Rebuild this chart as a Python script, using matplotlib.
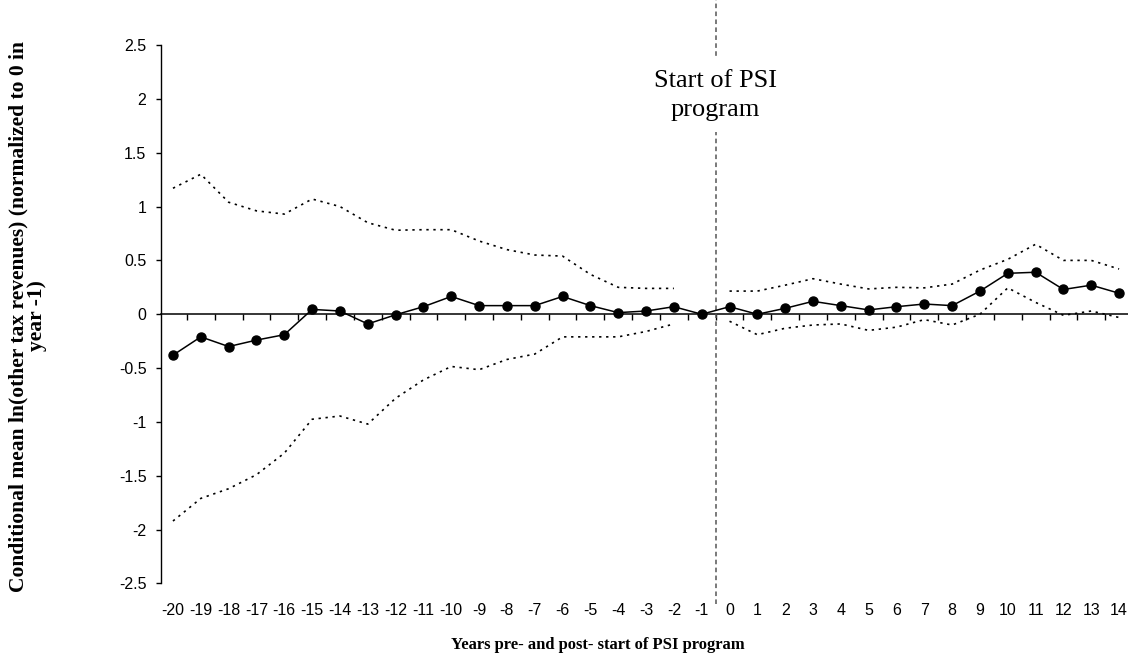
import matplotlib
matplotlib.use('Agg')
import matplotlib.pyplot as plt
import numpy as np

years = list(range(-20, 15))
mean = [-0.38, -0.21, -0.30, -0.24, -0.19, 0.045, 0.03, -0.09, -0.005, 0.07,
        0.165, 0.08, 0.08, 0.08, 0.165, 0.08, 0.015, 0.03, 0.07, 0.0,
        0.07, 0.0, 0.055, 0.12, 0.08, 0.04, 0.07, 0.095, 0.08, 0.215,
        0.38, 0.39, 0.23, 0.27, 0.195]
upper = [1.17, 1.30, 1.04, 0.96, 0.93, 1.07, 1.00, 0.85, 0.78, 0.785,
         0.785, 0.68, 0.60, 0.55, 0.54, 0.37, 0.25, 0.24, 0.24, np.nan,
         0.215, 0.215, 0.27, 0.33, 0.28, 0.235, 0.25, 0.245, 0.28, 0.41,
         0.51, 0.65, 0.50, 0.50, 0.42]
lower = [-1.92, -1.71, -1.62, -1.49, -1.29, -0.975, -0.945, -1.02, -0.78, -0.61,
         -0.485, -0.515, -0.42, -0.37, -0.21, -0.21, -0.21, -0.16, -0.09, np.nan,
         -0.065, -0.19, -0.13, -0.10, -0.09, -0.15, -0.12, -0.05, -0.10, 0.0,
         0.245, 0.11, -0.01, 0.03, -0.03]
yticks = [-2.5, -2, -1.5, -1, -0.5, 0, 0.5, 1, 1.5, 2, 2.5]

fig = plt.figure(figsize=(11.28, 6.57), dpi=100)
ax = fig.add_axes([0.1425, 0.1119, 0.8575, 0.8196])

x = np.arange(len(years))
ax.plot(x, upper, color='black', lw=1.2, linestyle=(0, (1.4, 2.8)))
ax.plot(x, lower, color='black', lw=1.2, linestyle=(0, (1.4, 2.8)))
ax.plot(x, mean, color='black', lw=1.1, marker='o', markersize=6.5)

# vertical line between -1 and 0
start = years.index(0) - 0.5
ax.axvline(start, ymin=-0.038, ymax=1.09, color='#555555', lw=1.1,
           linestyle=(0, (3, 2.2)), clip_on=False, zorder=1)
ax.text(start, 2.03, 'Start of PSI\nprogram', ha='center', va='center',
        fontsize=19, family='Liberation Serif', linespacing=1.42,
        bbox=dict(facecolor='white', edgecolor='none', pad=8), zorder=3)

ax.set_xlim(-0.44, len(years) - 1 + 0.32)
ax.set_ylim(-2.5, 2.5)
ax.set_yticks(yticks)
ax.set_yticklabels([f'{v:g}' for v in yticks], family='Liberation Sans', fontsize=11.5)
ax.set_xticks(x)
ax.set_xticklabels([str(y) for y in years], family='Liberation Sans', fontsize=11.5)
ax.tick_params(axis='x', length=0, pad=14)
ax.tick_params(axis='y', direction='out', length=3.3, width=1, pad=7)
for s in ['top', 'right', 'bottom']:
    ax.spines[s].set_visible(False)
ax.spines['left'].set_linewidth(1)

zero = ax.secondary_xaxis(0, transform=ax.transData)
zero.set_xticks(np.arange(len(years) + 1) - 0.5)
zero.tick_params(direction='out', length=4.3, width=1, labelbottom=False)
zero.spines['bottom'].set_linewidth(1.1)

fig.text(598 / 1128, 1 - 645 / 657, 'Years pre- and post- start of PSI program',
         ha='center', va='center', fontsize=12, fontweight='bold', family='Liberation Serif')
fig.text(28 / 1128, 1 - 316 / 657,
         'Conditional mean ln(other tax revenues) (normalized to 0 in\nyear -1)',
         ha='center', va='center', rotation=90, fontsize=15.5, fontweight='bold',
         family='Liberation Serif', linespacing=0.9)

fig.savefig('out.png', dpi=100)
plt.close()
